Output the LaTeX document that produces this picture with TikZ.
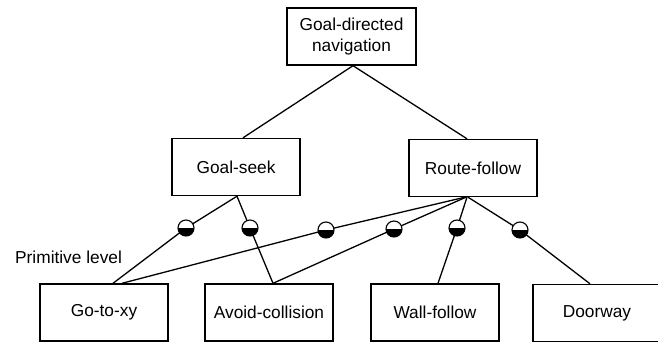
\documentclass[tikz,border=0pt]{standalone}
\usepackage{fontspec}
\setmainfont{Liberation Sans}
\usetikzlibrary{calc}
\begin{document}
\begin{tikzpicture}[x=1pt,y=-1pt,
  box/.style={draw, line width=1.4pt, minimum width=128pt, minimum height=57pt, inner sep=0pt, align=center, font=\fontsize{17.3}{21}\selectfont},
  link/.style={line width=1.3pt},
  halfdot/.style={circle, draw, line width=1.1pt, minimum size=16pt, inner sep=0pt, fill=white,
    path picture={\fill[black] (path picture bounding box.west) rectangle (path picture bounding box.south east);}},
  lbl/.style={font=\fontsize{17.3}{21}\selectfont, inner sep=0pt}]
\clip (0,0) rectangle (658,344);
\fill[white] (0,0) rectangle (658,344);
% nodes
\node[box, minimum width=129pt] (top) at (351.5,36.5) {Goal-directed\\navigation};
\node[box] (gs) at (236,167) {Goal-seek};
\node[box] (rf) at (473,168) {Route-follow};
\node[box] (gx) at (104,312.5) {Go-to-xy};
\node[box] (ac) at (269,312.5) {Avoid-collision};
\node[box] (wf) at (435,312.5) {Wall-follow};
\node[box] (dw) at (597,313) {Doorway};
\node[lbl, anchor=west] (pl) at (15,257) {Primitive level};
% circle positions
\coordinate (c1) at (186,228);
\coordinate (c2) at (250,228);
\coordinate (c3) at (326,230);
\coordinate (c4) at (394,229);
\coordinate (c5) at (457,228);
\coordinate (c6) at (520,230);
% top links
\draw[link] ($(top.south)+(1.5,0)$) -- ($(gs.north)+(7,0)$);
\draw[link] ($(top.south)+(1.5,0)$) -- ($(rf.north)+(-6,0)$);
% lower links
\draw[link] ($(gs.south)+(1,0)$) -- (c1) -- ($(gx.north)+(9,0)$);
\draw[link] ($(gs.south)+(1,0)$) -- (c2) -- ($(ac.north)+(4,0)$);
\draw[link] ($(rf.south)+(-8,0)$) -- (c3) -- ($(gx.north)+(18,0)$);
\draw[link] ($(rf.south)+(-7,0)$) -- (c4) -- ($(ac.north)+(4,0)$);
\draw[link] ($(rf.south)+(-6,0)$) -- (c5) -- ($(wf.north)+(3,0)$);
\draw[link] ($(rf.south)+(-5,0)$) -- (c6) -- ($(dw.north)+(-7,0)$);
% half-filled circles
\foreach \c in {c1,c2,c3,c4,c5,c6}
  \node[halfdot] (d\c) at (\c) {};
\end{tikzpicture}
\end{document}
